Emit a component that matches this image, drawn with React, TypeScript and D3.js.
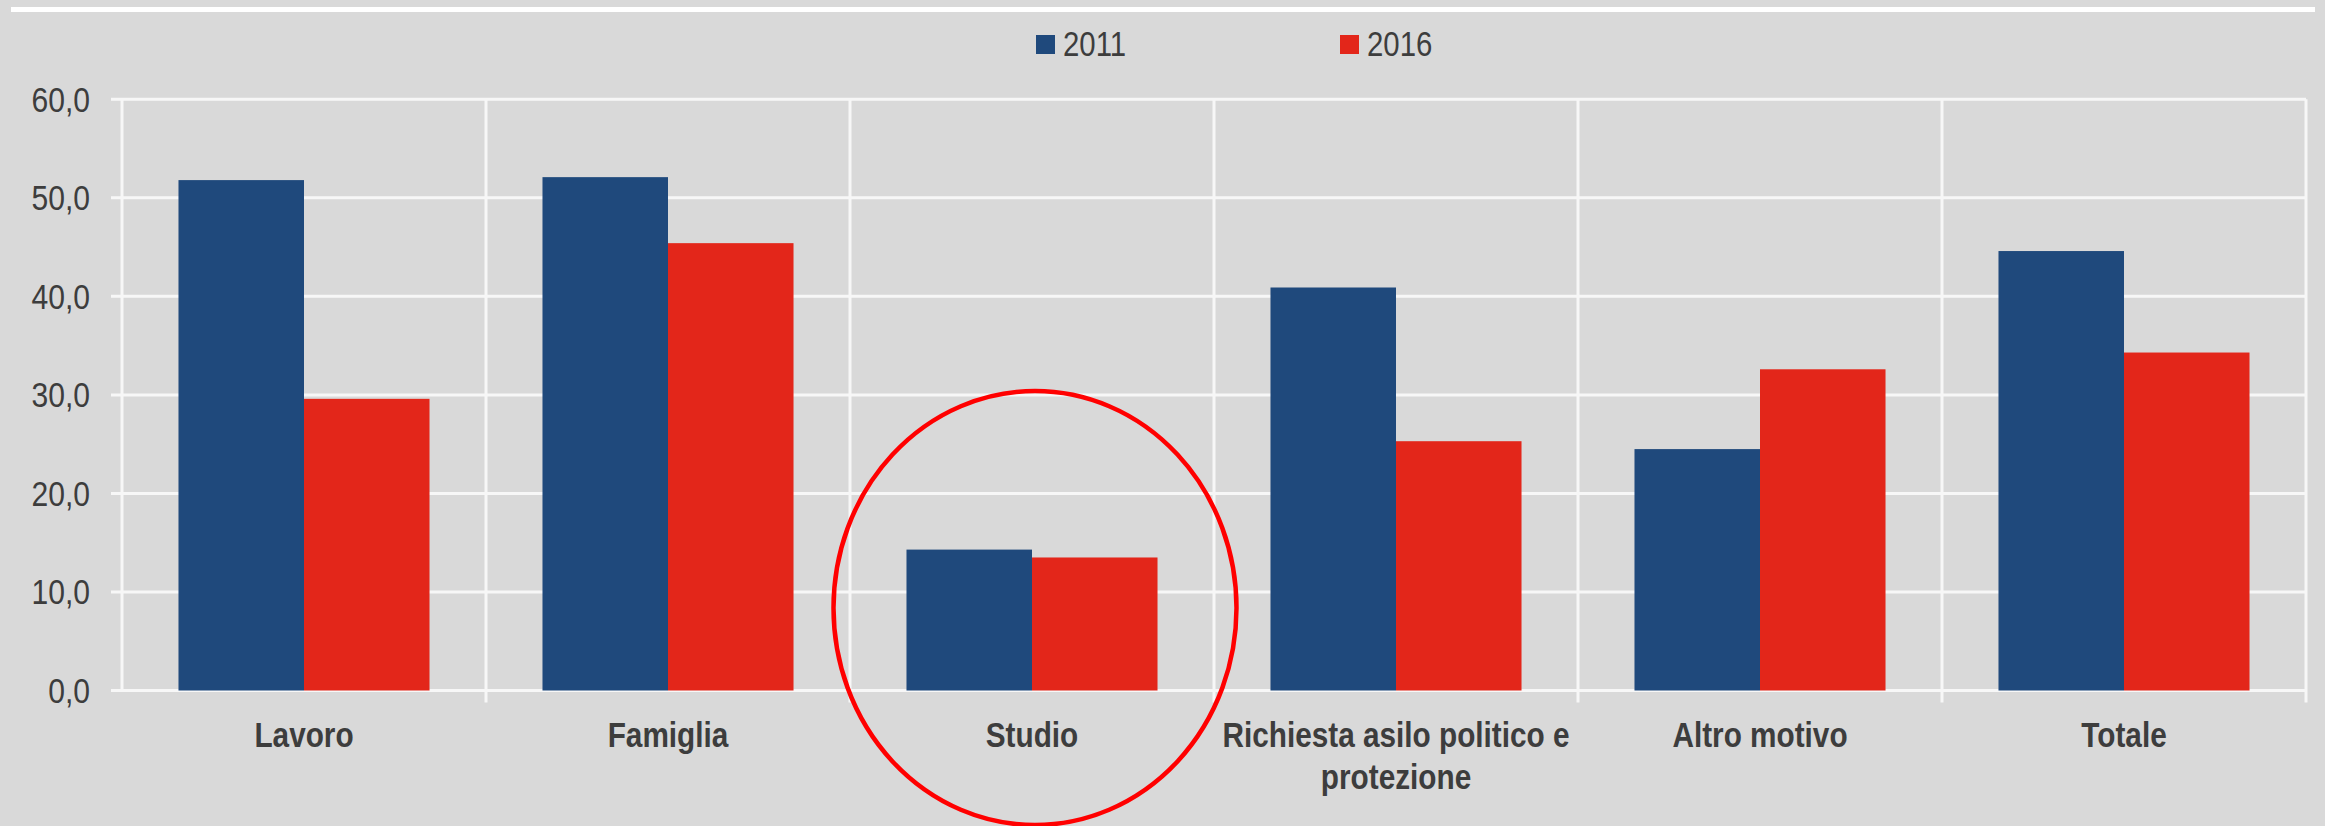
import React from "react";
import * as d3 from "d3";

const categories = ["Lavoro", "Famiglia", "Studio", "Richiesta asilo politico e\nprotezione", "Altro motivo", "Totale"];
const seriesNames = ["2011", "2016"];
const values2011 = [51.8, 52.1, 14.3, 40.9, 24.5, 44.6];
const values2016 = [29.6, 45.4, 13.5, 25.3, 32.6, 34.3];
const yTicks = [0, 10, 20, 30, 40, 50, 60];
const seriesColors = ["#1F497C", "#E3261A"];

const W = 2325;
const H = 826;
const left = 122;
const right = 2306;
const top = 99.3;
const bottom = 690.5;
const FONT = "'Liberation Sans', Arial, sans-serif";
const TEXT = "#3d3d3d";

export default function App() {
  const x0 = d3.scaleBand<string>().domain(categories).range([left, right]).paddingInner(0).paddingOuter(0);
  const x1 = d3.scaleBand<string>().domain(seriesNames).range([0, x0.bandwidth()]).paddingInner(0).paddingOuter(0.45);
  const y = d3.scaleLinear().domain([0, 60]).range([bottom, top]);
  const fmt = (v: number) => d3.format(".1f")(v).replace(".", ",");
  const series = [values2011, values2016];
  const boundaries = categories.map((c) => x0(c) as number).concat([right]);

  const studioCx = (x0("Studio") as number) + x0.bandwidth() / 2 + 3;

  const legendX = [1036, 1340];

  return (
    <svg width={W} height={H} style={{ position: "absolute", left: 0, top: 0, display: "block" }}>
      <rect x={0} y={0} width={W} height={H} fill="#d9d9d9" />
      <line x1={11} x2={2315} y1={9.5} y2={9.5} stroke="#ffffff" strokeWidth={5} />

      {/* horizontal gridlines */}
      {yTicks.map((t) => (
        <line key={"h" + t} x1={left - 11} x2={right} y1={y(t)} y2={y(t)} stroke="#f7f7f7" strokeWidth={3} />
      ))}
      {/* vertical category separators */}
      {boundaries.map((b, i) => (
        <line key={"v" + i} x1={b} x2={b} y1={top} y2={i === 0 ? bottom : bottom + 12} stroke="#f7f7f7" strokeWidth={3} />
      ))}

      {/* bars */}
      {categories.map((c, ci) =>
        seriesNames.map((s, si) => {
          const v = series[si][ci];
          return (
            <rect
              key={c + s}
              x={(x0(c) as number) + (x1(s) as number)}
              y={y(v)}
              width={x1.bandwidth()}
              height={y(0) - y(v)}
              fill={seriesColors[si]}
            />
          );
        })
      )}

      {/* y tick labels */}
      {yTicks.map((t) => (
        <g key={"yl" + t} transform={`translate(90,${y(t)}) scale(0.86,1)`}>
          <text x={0} y={0} textAnchor="end" dominantBaseline="central" fontFamily={FONT} fontSize={35} fill={TEXT}>
            {fmt(t)}
          </text>
        </g>
      ))}

      {/* category labels */}
      {categories.map((c) => {
        const cx = (x0(c) as number) + x0.bandwidth() / 2;
        const lines = c.split("\n");
        return (
          <g key={"cl" + c} transform={`translate(${cx},746.5) scale(0.85,1)`}>
            {lines.map((ln, li) => (
              <text key={li} x={0} y={li * 43} textAnchor="middle" fontFamily={FONT} fontWeight="bold" fontSize={35} fill={TEXT}>
                {ln}
              </text>
            ))}
          </g>
        );
      })}

      {/* legend */}
      {seriesNames.map((s, i) => (
        <g key={"lg" + s}>
          <rect x={legendX[i]} y={35} width={19} height={19} fill={seriesColors[i]} />
          <g transform={`translate(${legendX[i] + 27},44.5) scale(0.84,1)`}>
            <text x={0} y={0} dominantBaseline="central" fontFamily={FONT} fontSize={35} fill={TEXT}>
              {s}
            </text>
          </g>
        </g>
      ))}

      {/* annotation ellipse around Studio */}
      <ellipse cx={studioCx} cy={608} rx={201.5} ry={217} fill="none" stroke="#ff0000" strokeWidth={4.5} />
    </svg>
  );
}
